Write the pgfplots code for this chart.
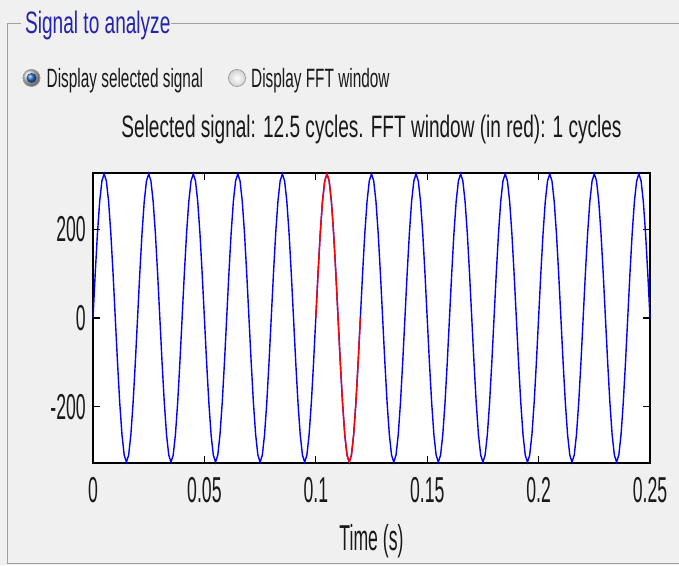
\documentclass[border=0pt]{standalone}
\usepackage{fontspec}
\setmainfont{Liberation Sans}
\usepackage{graphicx}
\usepackage{pgfplots}
\pgfplotsset{compat=1.18}
\definecolor{panel}{RGB}{240,240,240}
\definecolor{frameg}{RGB}{160,160,160}
\definecolor{ttlblue}{RGB}{35,35,175}
\definecolor{txt}{RGB}{25,25,25}
% squeezed text, the screenshot is narrow
\newcommand{\tl}[1]{\scalebox{0.49}[1]{\fontsize{36}{36}\selectfont #1}}
\newcommand{\ttl}[1]{\scalebox{0.615}[1]{\fontsize{31}{31}\selectfont #1}}
\newcommand{\rb}[1]{\scalebox{0.58}[1]{\fontsize{26.5}{26.5}\selectfont #1}}

\begin{document}
\begin{tikzpicture}[x=1pt,y=1pt]
\fill[panel] (0,0) rectangle (679,565);
% group box
\draw[frameg, line width=1pt] (21,541) -- (7,541) -- (7,2) -- (679,2);
\draw[frameg, line width=1pt] (171,541) -- (679,541);
\node[anchor=base west, inner sep=0, text=ttlblue] at (25,531.7) {\ttl{Signal to analyze}};
% radio buttons
\shade[ball color=gray!25, draw=gray!80, line width=0.8pt] (31.5,487) circle (8.5);
\shade[ball color={rgb,255:red,40;green,110;blue,200}] (31.5,487) circle (5);
\shade[inner color=white, outer color=gray!35, draw=gray!75, line width=0.8pt] (237,487) circle (8.5);
\node[anchor=base west, inner sep=0, text=txt] at (46.5,477.7) {\rb{Display selected signal}};
\node[anchor=base west, inner sep=0, text=txt] at (251,477.7) {\rb{Display FFT window}};

\begin{axis}[
    at={(93pt,102pt)}, anchor=south west,
    scale only axis,
    width=557pt, height=290pt,
    xmin=0, xmax=0.25,
    ymin=-327, ymax=327,
    axis background/.style={fill=white},
    axis line style={black, line width=1.6pt},
    tick align=inside,
    major tick length=7pt,
    tick style={black, line width=1.2pt},
    xtick={0,0.05,0.1,0.15,0.2,0.25},
    xticklabels={\tl{0},\tl{0.05},\tl{0.1},\tl{0.15},\tl{0.2},\tl{0.25}},
    ytick={-200,0,200},
    yticklabels={\tl{-200},\tl{0},\tl{200}},
    xticklabel style={anchor=north, inner sep=0, yshift=-14pt, text=txt},
    yticklabel style={anchor=east, inner sep=0, xshift=-7pt, text=txt},
    title={\ttl{Selected signal: 12.5 cycles. FFT window (in red): 1 cycles}},
    title style={at={(axis description cs:0.5,1)}, anchor=base, inner sep=0, yshift=30pt, text=txt},
    xlabel={\tl{Time (s)}},
    xlabel style={at={(axis description cs:0.5,0)}, anchor=base, inner sep=0, yshift=-87pt, text=txt},
    clip=false,
]
\addplot[blue, line width=1.4pt] coordinates {
(0.000,0)(0.001,100.4)(0.002,191.0)(0.003,262.9)(0.004,309.1)(0.005,325.0)(0.006,309.1)(0.007,262.9)(0.008,191.0)(0.009,100.4)
(0.010,0)(0.011,-100.4)(0.012,-191.0)(0.013,-262.9)(0.014,-309.1)(0.015,-325.0)(0.016,-309.1)(0.017,-262.9)(0.018,-191.0)(0.019,-100.4)
(0.020,0)(0.021,100.4)(0.022,191.0)(0.023,262.9)(0.024,309.1)(0.025,325.0)(0.026,309.1)(0.027,262.9)(0.028,191.0)(0.029,100.4)
(0.030,0)(0.031,-100.4)(0.032,-191.0)(0.033,-262.9)(0.034,-309.1)(0.035,-325.0)(0.036,-309.1)(0.037,-262.9)(0.038,-191.0)(0.039,-100.4)
(0.040,0)(0.041,100.4)(0.042,191.0)(0.043,262.9)(0.044,309.1)(0.045,325.0)(0.046,309.1)(0.047,262.9)(0.048,191.0)(0.049,100.4)
(0.050,0)(0.051,-100.4)(0.052,-191.0)(0.053,-262.9)(0.054,-309.1)(0.055,-325.0)(0.056,-309.1)(0.057,-262.9)(0.058,-191.0)(0.059,-100.4)
(0.060,0)(0.061,100.4)(0.062,191.0)(0.063,262.9)(0.064,309.1)(0.065,325.0)(0.066,309.1)(0.067,262.9)(0.068,191.0)(0.069,100.4)
(0.070,0)(0.071,-100.4)(0.072,-191.0)(0.073,-262.9)(0.074,-309.1)(0.075,-325.0)(0.076,-309.1)(0.077,-262.9)(0.078,-191.0)(0.079,-100.4)
(0.080,0)(0.081,100.4)(0.082,191.0)(0.083,262.9)(0.084,309.1)(0.085,325.0)(0.086,309.1)(0.087,262.9)(0.088,191.0)(0.089,100.4)
(0.090,0)(0.091,-100.4)(0.092,-191.0)(0.093,-262.9)(0.094,-309.1)(0.095,-325.0)(0.096,-309.1)(0.097,-262.9)(0.098,-191.0)(0.099,-100.4)
(0.100,0)(0.101,100.4)(0.102,191.0)(0.103,262.9)(0.104,309.1)(0.105,325.0)(0.106,309.1)(0.107,262.9)(0.108,191.0)(0.109,100.4)
(0.110,0)(0.111,-100.4)(0.112,-191.0)(0.113,-262.9)(0.114,-309.1)(0.115,-325.0)(0.116,-309.1)(0.117,-262.9)(0.118,-191.0)(0.119,-100.4)
(0.120,0)(0.121,100.4)(0.122,191.0)(0.123,262.9)(0.124,309.1)(0.125,325.0)(0.126,309.1)(0.127,262.9)(0.128,191.0)(0.129,100.4)
(0.130,0)(0.131,-100.4)(0.132,-191.0)(0.133,-262.9)(0.134,-309.1)(0.135,-325.0)(0.136,-309.1)(0.137,-262.9)(0.138,-191.0)(0.139,-100.4)
(0.140,0)(0.141,100.4)(0.142,191.0)(0.143,262.9)(0.144,309.1)(0.145,325.0)(0.146,309.1)(0.147,262.9)(0.148,191.0)(0.149,100.4)
(0.150,0)(0.151,-100.4)(0.152,-191.0)(0.153,-262.9)(0.154,-309.1)(0.155,-325.0)(0.156,-309.1)(0.157,-262.9)(0.158,-191.0)(0.159,-100.4)
(0.160,0)(0.161,100.4)(0.162,191.0)(0.163,262.9)(0.164,309.1)(0.165,325.0)(0.166,309.1)(0.167,262.9)(0.168,191.0)(0.169,100.4)
(0.170,0)(0.171,-100.4)(0.172,-191.0)(0.173,-262.9)(0.174,-309.1)(0.175,-325.0)(0.176,-309.1)(0.177,-262.9)(0.178,-191.0)(0.179,-100.4)
(0.180,0)(0.181,100.4)(0.182,191.0)(0.183,262.9)(0.184,309.1)(0.185,325.0)(0.186,309.1)(0.187,262.9)(0.188,191.0)(0.189,100.4)
(0.190,0)(0.191,-100.4)(0.192,-191.0)(0.193,-262.9)(0.194,-309.1)(0.195,-325.0)(0.196,-309.1)(0.197,-262.9)(0.198,-191.0)(0.199,-100.4)
(0.200,0)(0.201,100.4)(0.202,191.0)(0.203,262.9)(0.204,309.1)(0.205,325.0)(0.206,309.1)(0.207,262.9)(0.208,191.0)(0.209,100.4)
(0.210,0)(0.211,-100.4)(0.212,-191.0)(0.213,-262.9)(0.214,-309.1)(0.215,-325.0)(0.216,-309.1)(0.217,-262.9)(0.218,-191.0)(0.219,-100.4)
(0.220,0)(0.221,100.4)(0.222,191.0)(0.223,262.9)(0.224,309.1)(0.225,325.0)(0.226,309.1)(0.227,262.9)(0.228,191.0)(0.229,100.4)
(0.230,0)(0.231,-100.4)(0.232,-191.0)(0.233,-262.9)(0.234,-309.1)(0.235,-325.0)(0.236,-309.1)(0.237,-262.9)(0.238,-191.0)(0.239,-100.4)
(0.240,0)(0.241,100.4)(0.242,191.0)(0.243,262.9)(0.244,309.1)(0.245,325.0)(0.246,309.1)(0.247,262.9)(0.248,191.0)(0.249,100.4)
(0.250,0)
};
% FFT window, one cycle
\addplot[red, line width=1.4pt] coordinates {
(0.100,0)(0.101,100.4)(0.102,191.0)(0.103,262.9)(0.104,309.1)(0.105,325.0)(0.106,309.1)(0.107,262.9)(0.108,191.0)(0.109,100.4)
(0.110,0)(0.111,-100.4)(0.112,-191.0)(0.113,-262.9)(0.114,-309.1)(0.115,-325.0)(0.116,-309.1)(0.117,-262.9)(0.118,-191.0)(0.119,-100.4)
(0.120,0)
};
\end{axis}
\pgfresetboundingbox
\useasboundingbox (0,0) rectangle (679,565);
\end{tikzpicture}
\end{document}
